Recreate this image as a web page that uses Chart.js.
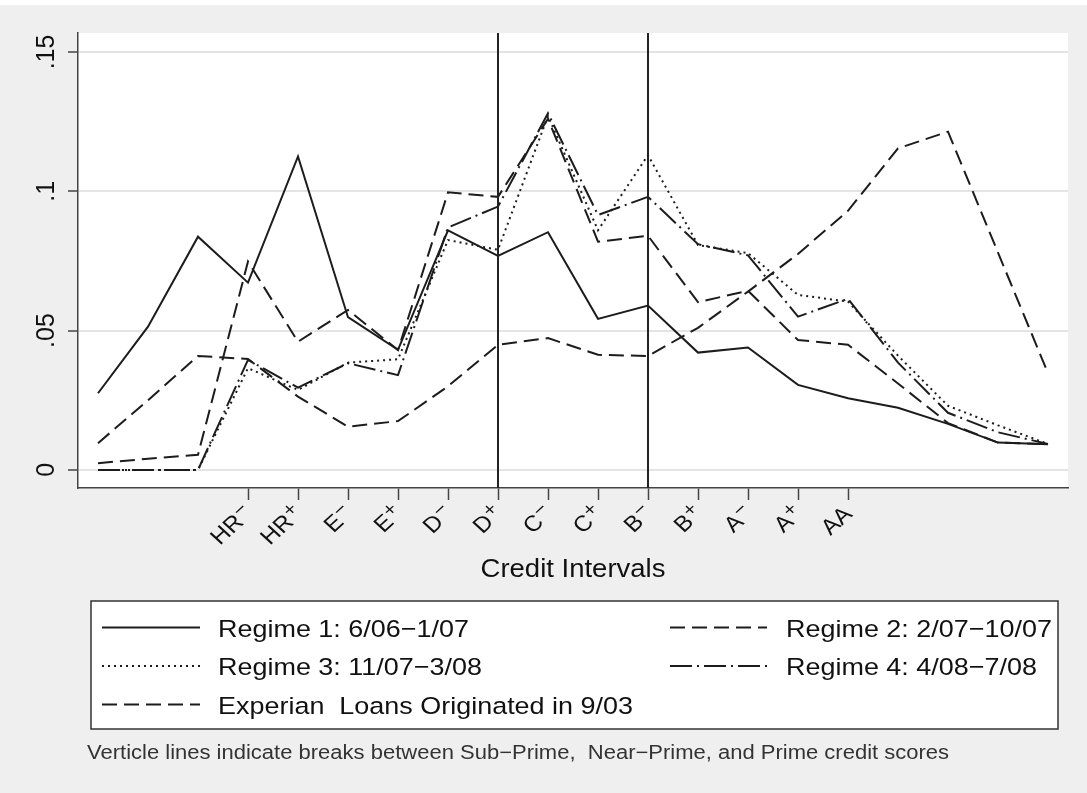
<!DOCTYPE html>
<html><head><meta charset="utf-8">
<script src="https://cdn.jsdelivr.net/npm/chart.js@4.4.1/dist/chart.umd.min.js"></script>
<style>
html,body{margin:0;padding:0;background:#efefef;overflow:hidden}
canvas{display:block}
</style></head><body>
<canvas id="c" width="1087" height="793"></canvas>
<script>
// ---- data ----
const categories = ['', '', '', 'HR-', 'HR+', 'E-', 'E+', 'D-', 'D+', 'C-', 'C+', 'B-', 'B+', 'A-', 'A+', 'AA', '', '', '', ''];
const breakLabels = ['D+', 'B-'];
const yTickValues = [0, 0.05, 0.1, 0.15];
const yTickLabels = ['0', '.05', '.1', '.15'];

const regime1 = [0.0275,0.0514,0.0837,0.0672,0.1125,0.0548,0.0431,0.0860,0.0768,0.0853,0.0542,0.0590,0.0421,0.0439,0.0305,0.0257,0.0223,0.0165,0.0098,0.0092];
const regime2 = [0.0024,0.0040,0.0054,0.0748,0.0460,0.0574,0.0430,0.0996,0.0980,0.1260,0.0819,0.0840,0.0602,0.0643,0.0466,0.0449,0.0310,0.0168,0.0098,0.0092];
const regime3 = [0,0,0,0.0365,0.0287,0.0385,0.0397,0.0825,0.0790,0.1270,0.0860,0.1130,0.0807,0.0778,0.0628,0.0604,0.0410,0.0230,0.0160,0.0093];
const regime4 = [0,0,0,0.0395,0.0295,0.0383,0.0340,0.0870,0.0945,0.1280,0.0915,0.0980,0.0810,0.0770,0.0550,0.0614,0.0385,0.0205,0.0135,0.0093];
const experian = [0.0096,0.0250,0.0409,0.0398,0.0263,0.0155,0.0175,0.0300,0.0449,0.0473,0.0413,0.0409,0.0510,0.0640,0.0775,0.0930,0.1154,0.1214,0.0780,0.0347];

const seriesLabels = ['Regime 1: 6/06\u22121/07', 'Regime 2: 2/07\u221210/07', 'Regime 3: 11/07\u22123/08', 'Regime 4: 4/08\u22127/08', 'Experian  Loans Originated in 9/03'];
const noteText = 'Verticle lines indicate breaks between Sub\u2212Prime,  Near\u2212Prime, and Prime credit scores';
const xTitle = 'Credit Intervals';

// ---- styles ----
const FONT = "'Liberation Sans', Arial, sans-serif";
const INK = '#1c1c1c';
const STRETCH = 1.1;
const dashes = [[], [15, 7], [2, 4], [22, 5, 2, 5], [15, 7]];
const allSeries = [regime1, regime2, regime3, regime4, experian];

const toPoints = arr => arr.map((v, i) => ({ x: i, y: v }));
const datasets = allSeries.map((s, k) => ({
  label: seriesLabels[k],
  data: toPoints(s),
  borderColor: INK,
  borderWidth: 2,
  borderDash: dashes[k],
  pointRadius: 0,
  tension: 0,
  fill: false
}));

function stretchedText(ctx, text, x, y, align) {
  ctx.save();
  ctx.translate(x, y);
  ctx.scale(STRETCH, 1);
  const w = ctx.measureText(text).width;
  const dx = align === 'center' ? -w / 2 : 0;
  ctx.textAlign = 'left';
  ctx.fillText(text, dx, 0);
  ctx.restore();
}

const decor = {
  id: 'decor',
  beforeDraw(chart) {
    const { ctx, chartArea: a } = chart;
    ctx.save();
    ctx.fillStyle = '#ffffff';
    ctx.fillRect(0, 0, chart.width, 5);
    ctx.fillRect(a.left, a.top, a.right - a.left, a.bottom - a.top);
    ctx.restore();
  },
  afterDatasetsDraw(chart) {
    const { ctx, chartArea: a, scales: { x } } = chart;
    ctx.save();
    ctx.strokeStyle = '#222';
    ctx.lineWidth = 2;
    breakLabels.forEach(lbl => {
      const px = Math.round(x.getPixelForValue(categories.indexOf(lbl)));
      ctx.beginPath();
      ctx.moveTo(px, a.top);
      ctx.lineTo(px, a.bottom);
      ctx.stroke();
    });
    ctx.restore();
  },
  afterDraw(chart) {
    const { ctx, chartArea: a, scales: { x } } = chart;
    ctx.save();
    ctx.fillStyle = '#111';
    ctx.textBaseline = 'alphabetic';

    // x tick labels: base letters with raised sign, rotated 45 degrees
    x.ticks.forEach(t => {
      const lbl = categories[t.value];
      if (!lbl) return;
      const last = lbl.slice(-1);
      const hasSign = last === '+' || last === '-';
      const base = hasSign ? lbl.slice(0, -1) : lbl;
      const sign = hasSign ? (last === '+' ? '+' : '\u2212') : '';
      const px = x.getPixelForValue(t.value);
      ctx.save();
      ctx.translate(px, a.bottom + 21);
      ctx.scale(STRETCH, 1);
      ctx.rotate(-Math.PI / 4);
      let end = -1;
      if (sign) {
        ctx.font = '19px ' + FONT;
        ctx.textAlign = 'right';
        ctx.textBaseline = 'middle';
        const ws = ctx.measureText(sign).width;
        ctx.fillText(sign, 0, -4);
        end = -ws - 1;
      }
      ctx.font = '22px ' + FONT;
      ctx.textAlign = 'right';
      ctx.textBaseline = 'alphabetic';
      ctx.fillText(base, end, 8);
      ctx.restore();
    });

    // x axis title
    ctx.font = '25px ' + FONT;
    ctx.textBaseline = 'alphabetic';
    stretchedText(ctx, xTitle, (a.left + a.right) / 2, 577, 'center');

    // legend box
    const bx = 91, by = 601, bw = 967, bh = 128;
    ctx.fillStyle = '#ffffff';
    ctx.fillRect(bx, by, bw, bh);
    ctx.strokeStyle = '#333';
    ctx.lineWidth = 1.5;
    ctx.strokeRect(bx, by, bw, bh);
    const slots = [[0, 0], [1, 0], [0, 1], [1, 1], [0, 2]];
    const colSample = [[102, 200], [670, 767]];
    const colText = [218, 786];
    const rowY = [627.5, 666, 704.5];
    chart.data.datasets.forEach((ds, k) => {
      const [c, r] = slots[k];
      ctx.strokeStyle = INK;
      ctx.lineWidth = 2;
      ctx.setLineDash(ds.borderDash);
      ctx.beginPath();
      ctx.moveTo(colSample[c][0], rowY[r]);
      ctx.lineTo(colSample[c][1], rowY[r]);
      ctx.stroke();
      ctx.setLineDash([]);
      ctx.fillStyle = '#111';
      ctx.font = '24.5px ' + FONT;
      ctx.textBaseline = 'alphabetic';
      stretchedText(ctx, ds.label, colText[c], rowY[r] + 9, 'left');
    });

    // note
    ctx.font = '20px ' + FONT;
    ctx.fillStyle = '#333';
    ctx.textBaseline = 'alphabetic';
    stretchedText(ctx, noteText, 87, 759, 'left');
    ctx.restore();
  }
};

new Chart(document.getElementById('c'), {
  type: 'line',
  data: { datasets },
  options: {
    responsive: false,
    animation: false,
    devicePixelRatio: 1,
    layout: { padding: { top: 33, right: 19, bottom: 210, left: 0 } },
    plugins: { legend: { display: false }, title: { display: false }, tooltip: { enabled: false } },
    scales: {
      x: {
        type: 'linear',
        min: -0.4,
        max: categories.length - 0.6,
        afterBuildTicks(scale) {
          scale.ticks = categories.map((c, i) => ({ value: i, c })).filter(t => t.c !== '').map(t => ({ value: t.value }));
        },
        afterFit(scale) { scale.height = 95; },
        grid: { drawOnChartArea: false, drawTicks: true, tickLength: 12, tickColor: '#444', tickWidth: 1.5 },
        border: { display: true, color: '#444', width: 1.5 },
        ticks: {
          autoSkip: false,
          minRotation: 45,
          maxRotation: 45,
          padding: 2,
          color: 'rgba(0,0,0,0)',
          font: { family: FONT, size: 20 },
          callback: v => categories[v]
        },
        title: { display: false, text: xTitle }
      },
      y: {
        type: 'linear',
        min: -0.0065,
        max: 0.1568,
        afterBuildTicks(scale) { scale.ticks = yTickValues.map(v => ({ value: v })); },
        afterFit(scale) { scale.width = 78; },
        grid: { color: '#e4e4e4', lineWidth: 2, drawTicks: true, tickLength: 10, tickColor: '#444', tickWidth: 1.5 },
        border: { display: true, color: '#444', width: 1.5 },
        ticks: {
          minRotation: 90,
          maxRotation: 90,
          crossAlign: 'center',
          padding: 4,
          color: '#111',
          font: { family: FONT, size: 25 },
          callback: v => yTickLabels[yTickValues.indexOf(v)]
        }
      }
    }
  },
  plugins: [decor]
});
</script>
</body></html>
